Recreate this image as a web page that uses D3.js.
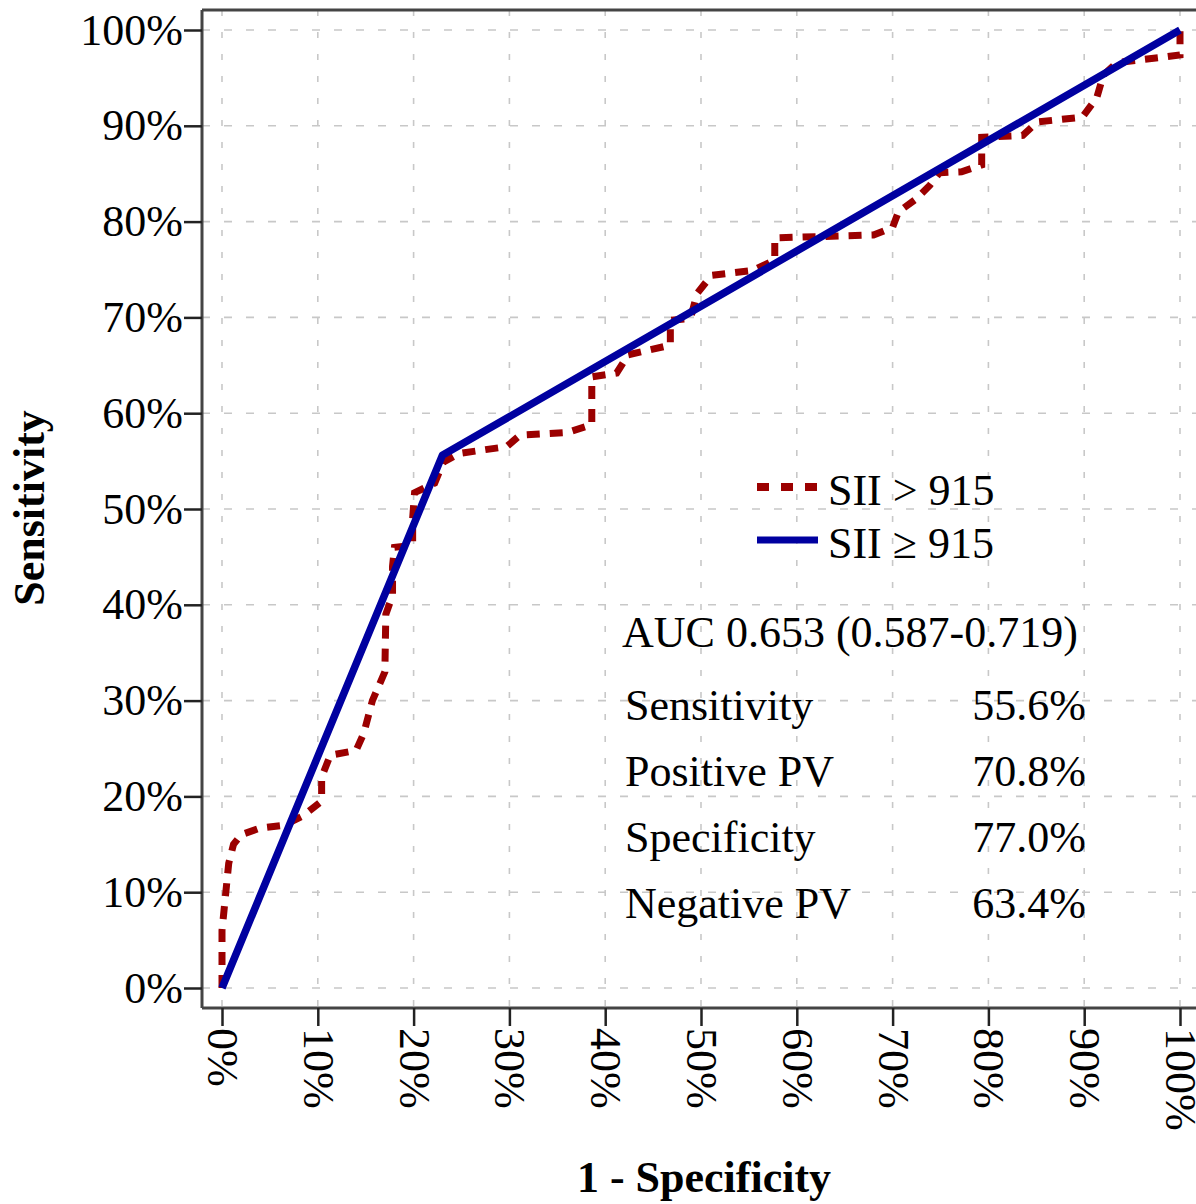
<!DOCTYPE html>
<html>
<head>
<meta charset="utf-8">
<script src="https://cdn.jsdelivr.net/npm/d3@7"></script>
<style>
  body { margin: 0; background: #fff; }
  svg { display: block; font-family: "Liberation Serif", "Times New Roman", serif; }
</style>
</head>
<body>
<div id="chart"></div>
<script>

// ROC curve (1 - specificity, sensitivity)
var rocFpr = [0, 0, 0.007, 0.012, 0.02, 0.04, 0.065, 0.085, 0.104, 0.104, 0.113, 0.14, 0.148, 0.157,
    0.17, 0.171, 0.178, 0.178, 0.18, 0.199, 0.199, 0.201, 0.222, 0.231, 0.248, 0.275, 0.297, 0.311,
    0.361, 0.386, 0.386, 0.412, 0.424, 0.468, 0.468, 0.489, 0.496, 0.511, 0.554, 0.577, 0.577, 0.68,
    0.70, 0.706, 0.725, 0.739, 0.749, 0.772, 0.793, 0.793, 0.836, 0.851, 0.898, 0.913, 0.92, 0.934,
    0.977, 1.0, 1.0];
var rocTpr = [0, 0.06, 0.13, 0.15, 0.16, 0.167, 0.17, 0.18, 0.195, 0.22, 0.243, 0.248, 0.266, 0.30,
    0.33, 0.39, 0.41, 0.44, 0.46, 0.462, 0.49, 0.517, 0.527, 0.549, 0.558, 0.562, 0.565, 0.577,
    0.58, 0.588, 0.638, 0.642, 0.661, 0.671, 0.697, 0.699, 0.725, 0.744, 0.749, 0.76, 0.783, 0.786,
    0.794, 0.81, 0.824, 0.838, 0.851, 0.852, 0.859, 0.888, 0.89, 0.904, 0.909, 0.929, 0.953, 0.966,
    0.971, 0.974, 1.0];

// cut-off curve
var cutFpr = [0, 0.23, 1];
var cutTpr = [0, 0.556, 1];

var legendLabels = ["SII > 915", "SII \u2265 915"];
var aucLabel = "AUC 0.653 (0.587-0.719)";
var statLabels = ["Sensitivity", "Positive PV", "Specificity", "Negative PV"];
var statValues = ["55.6%", "70.8%", "77.0%", "63.4%"];
var tickValues = [0, 0.1, 0.2, 0.3, 0.4, 0.5, 0.6, 0.7, 0.8, 0.9, 1];

var
    width = 1196,
    height = 1204,
    frame = { left: 202, top: 10, bottom: 1008, right: 1200 },
    red = "#9b0000",
    blue = "#0000a0",
    fontSize = 44;

var svg = d3.select("#chart").append("svg")
    .attr("width", width)
    .attr("height", height);

var xScale = d3.scaleLinear().domain([0, 1]).range([222, 1180]);
var yScale = d3.scaleLinear().domain([0, 1]).range([988, 30]);
var pct = d3.format(".0%");

// grid
var grid = svg.append("g").attr("class", "grid");
grid.selectAll(".vgrid").data(tickValues).enter().append("line")
    .attr("x1", function (d) { return xScale(d); })
    .attr("x2", function (d) { return xScale(d); })
    .attr("y1", frame.top)
    .attr("y2", frame.bottom)
    .attr("stroke", "#c8c8c8")
    .attr("stroke-width", 1.6)
    .attr("stroke-dasharray", "6,16");
grid.selectAll(".hgrid").data(tickValues).enter().append("line")
    .attr("x1", frame.left)
    .attr("x2", frame.right)
    .attr("y1", function (d) { return yScale(d); })
    .attr("y2", function (d) { return yScale(d); })
    .attr("stroke", "#c8c8c8")
    .attr("stroke-width", 1.6)
    .attr("stroke-dasharray", "8,14");

// top frame line
svg.append("line")
    .attr("x1", frame.left).attr("x2", frame.right)
    .attr("y1", frame.top).attr("y2", frame.top)
    .attr("stroke", "#444").attr("stroke-width", 3);

// axes
var yAxis = svg.append("g")
    .attr("transform", "translate(" + frame.left + ",0)")
    .call(d3.axisLeft(yScale).tickValues(tickValues).tickFormat(pct).tickSize(18).tickPadding(1).tickSizeOuter(0));

var xAxis = svg.append("g")
    .attr("transform", "translate(0," + frame.bottom + ")")
    .call(d3.axisBottom(xScale).tickValues(tickValues).tickFormat(pct).tickSize(18).tickSizeOuter(0));

xAxis.select(".domain").attr("d", "M" + frame.left + ",0H" + frame.right);
yAxis.select(".domain").attr("d", "M0," + frame.top + "V" + frame.bottom);

[xAxis, yAxis].forEach(function (ax) {
    ax.select(".domain").attr("stroke", "#444").attr("stroke-width", 3);
    ax.selectAll(".tick line").attr("stroke", "#222").attr("stroke-width", 2.5);
    ax.selectAll("text")
        .attr("fill", "#000")
        .style("font-family", "Liberation Serif")
        .style("font-size", fontSize + "px");
});

xAxis.selectAll("text")
    .attr("x", 0)
    .attr("y", 0)
    .attr("dy", "0.33em")
    .attr("transform", "translate(0,20) rotate(90)")
    .style("text-anchor", "start");

// axis titles
svg.append("text")
    .attr("x", 704)
    .attr("y", 1192)
    .attr("text-anchor", "middle")
    .style("font-size", fontSize + "px")
    .style("font-weight", "bold")
    .text("1 - Specificity");

svg.append("text")
    .attr("transform", "translate(44,508) rotate(-90)")
    .attr("text-anchor", "middle")
    .style("font-size", fontSize + "px")
    .style("font-weight", "bold")
    .text("Sensitivity");

// curves
var line = d3.line()
    .x(function (d) { return xScale(d[0]); })
    .y(function (d) { return yScale(d[1]); });

var rocData = rocFpr.map(function (d, i) { return [d, rocTpr[i]]; });
var cutData = cutFpr.map(function (d, i) { return [d, cutTpr[i]]; });

svg.append("path")
    .datum(rocData)
    .attr("d", line)
    .attr("fill", "none")
    .attr("stroke", red)
    .attr("stroke-width", 7)
    .attr("stroke-dasharray", "13,10");

svg.append("path")
    .datum(cutData)
    .attr("d", line)
    .attr("fill", "none")
    .attr("stroke", blue)
    .attr("stroke-width", 7.5)
    .attr("stroke-linejoin", "round");

// legend
var legend = svg.append("g").attr("class", "legend");
var legendItems = legend.selectAll(".item").data(legendLabels).enter().append("g")
    .attr("transform", function (d, i) { return "translate(757," + (487 + i * 53) + ")"; });

legendItems.append("line")
    .attr("x1", 0).attr("x2", 61)
    .attr("y1", 0).attr("y2", 0)
    .attr("stroke", function (d, i) { return i === 0 ? red : blue; })
    .attr("stroke-width", function (d, i) { return i === 0 ? 8 : 7; })
    .attr("stroke-dasharray", function (d, i) { return i === 0 ? "12,12" : null; });

legendItems.append("text")
    .attr("x", 71)
    .attr("y", 18)
    .style("font-size", fontSize + "px")
    .text(function (d) { return d; });

// statistics
svg.append("text")
    .attr("x", 622)
    .attr("y", 647)
    .style("font-size", fontSize + "px")
    .text(aucLabel);

var stats = svg.append("g").attr("class", "stats");
stats.selectAll(".label").data(statLabels).enter().append("text")
    .attr("x", 625)
    .attr("y", function (d, i) { return 720 + i * 66; })
    .style("font-size", fontSize + "px")
    .text(function (d) { return d; });

stats.selectAll(".value").data(statValues).enter().append("text")
    .attr("x", 1086)
    .attr("y", function (d, i) { return 720 + i * 66; })
    .attr("text-anchor", "end")
    .style("font-size", fontSize + "px")
    .text(function (d) { return d; });

</script>
</body>
</html>
